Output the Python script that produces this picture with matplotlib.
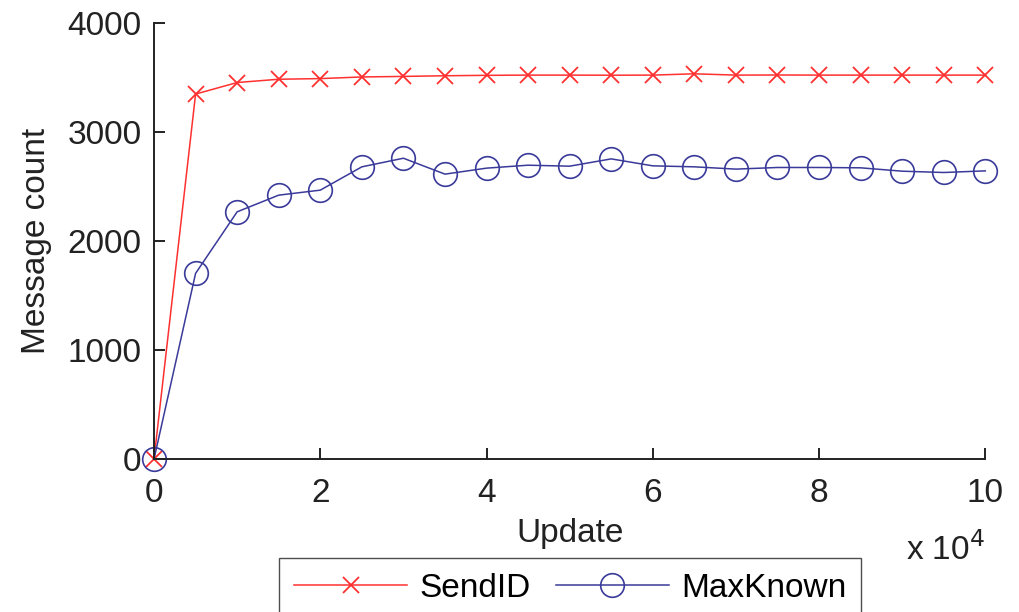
import matplotlib
matplotlib.use('Agg')
import matplotlib.pyplot as plt
from matplotlib.ticker import FuncFormatter

# data
updates = [0, 5000, 10000, 15000, 20000, 25000, 30000, 35000, 40000, 45000, 50000,
           55000, 60000, 65000, 70000, 75000, 80000, 85000, 90000, 95000, 100000]
send_id = [0, 3350, 3456, 3486, 3492, 3507, 3512, 3518, 3522, 3524, 3524,
           3523, 3524, 3536, 3524, 3525, 3524, 3524, 3524, 3524, 3524]
max_known = [0, 1704, 2269, 2422, 2468, 2682, 2761, 2615, 2670, 2697, 2688,
             2755, 2691, 2682, 2661, 2676, 2676, 2673, 2642, 2630, 2645]

plt.rcParams['font.family'] = ['Liberation Sans', 'DejaVu Sans']

fig = plt.figure(figsize=(10.2, 6.12), dpi=100)
ax = fig.add_axes([0.151, 0.25, 0.815, 0.712])

ax.plot(updates, send_id, color='#ff3030', lw=1.1, marker='x', ms=11, mew=1.3,
        label='SendID')
ax.plot(updates, max_known, color='#3a3a9a', lw=1.1, marker='o', ms=17, mew=1.2,
        mfc='none', label='MaxKnown')

ax.set_xlim(0, 100000)
ax.set_ylim(0, 4000)
ax.set_xticks([0, 20000, 40000, 60000, 80000, 100000])
ax.set_yticks([0, 1000, 2000, 3000, 4000])
ax.xaxis.set_major_formatter(FuncFormatter(lambda v, p: '%g' % (v / 1e4)))

for s in ['top', 'right']:
    ax.spines[s].set_visible(False)
for s in ['left', 'bottom']:
    ax.spines[s].set_linewidth(1.4)
    ax.spines[s].set_color('#222222')

ax.tick_params(direction='in', length=8, width=1.4, color='#222222',
               labelsize=24, labelcolor='#222222')
ax.tick_params(axis='x', pad=14)
ax.tick_params(axis='y', pad=9)
for line in ax.get_lines():
    line.set_clip_on(False)

ax.set_xlabel('Update', fontsize=24, labelpad=6, color='#222222')
ax.set_ylabel('Message count', fontsize=24, labelpad=11, color='#222222')
fig.text(0.966, 0.074, r'x 10$^4$', fontsize=24, ha='right', va='bottom',
         color='#222222')

fig.legend(loc='upper center', bbox_to_anchor=(0.559, 0.089), ncol=2,
           fontsize=24, frameon=True, fancybox=False, edgecolor='#222222',
           handlelength=3.4, handletextpad=0.36, columnspacing=0.75,
           borderpad=0.45, borderaxespad=0)

plt.savefig('out.png', dpi=100)
